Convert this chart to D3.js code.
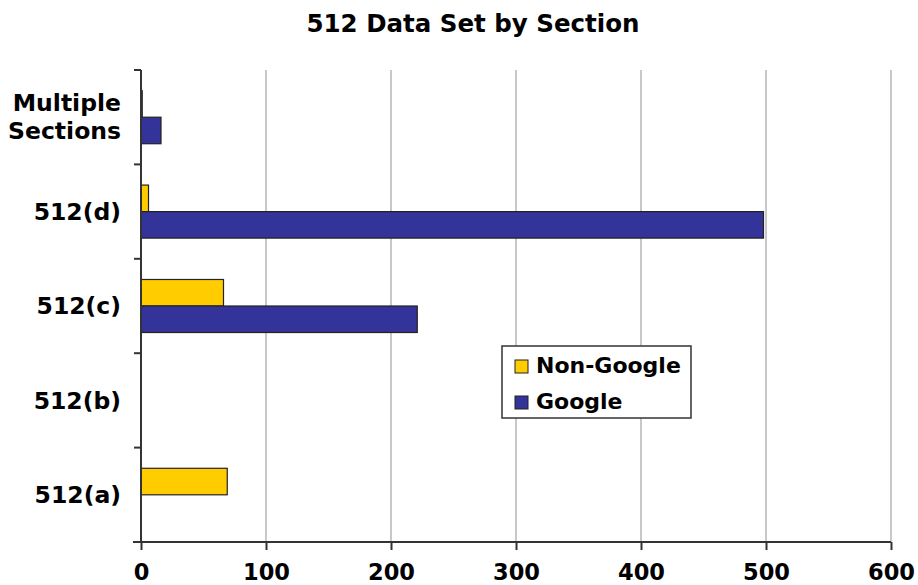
<!DOCTYPE html>
<html>
<head>
<meta charset="utf-8">
<script src="https://cdn.jsdelivr.net/npm/d3@7"></script>
<style>
  body { margin: 0; background: #fff; }
  text { font-family: "DejaVu Sans", Verdana, sans-serif; font-weight: bold; fill: #000; }
</style>
</head>
<body>
<div id="chart"></div>
<script>
// data
const sections = ["512(a)", "512(b)", "512(c)", "512(d)", "Multiple Sections"];
const nonGoogle = [69, 0, 66, 6, 1];
const google = [0, 0, 221, 498, 16];
const seriesNames = ["Non-Google", "Google"];
const xTicks = [0, 100, 200, 300, 400, 500, 600];

const svgWidth = 918;
const svgHeight = 585;
const margin = { top: 70, right: 27, bottom: 43, left: 141 };
const width = svgWidth - margin.left - margin.right;
const height = svgHeight - margin.top - margin.bottom;

const colors = { "Non-Google": "#FFCC00", "Google": "#333399" };

const svg = d3.select("#chart").append("svg")
  .attr("width", svgWidth)
  .attr("height", svgHeight);

svg.append("text")
  .attr("x", 473)
  .attr("y", 32)
  .attr("text-anchor", "middle")
  .style("font-size", "24.5px")
  .text("512 Data Set by Section");

const chartGroup = svg.append("g")
  .attr("transform", `translate(${margin.left}, ${margin.top})`);

const xScale = d3.scaleLinear().domain([0, 600]).range([0, width]);

// categories from bottom to top
const yScale = d3.scaleBand()
  .domain(sections.slice().reverse())
  .range([0, height]);

const inner = d3.scaleBand()
  .domain(seriesNames)
  .range([0, yScale.bandwidth()])
  .paddingOuter(0.78)
  .paddingInner(0);

// gridlines
chartGroup.selectAll(".grid")
  .data(xTicks.slice(1))
  .enter().append("line")
  .attr("x1", d => xScale(d))
  .attr("x2", d => xScale(d))
  .attr("y1", 0)
  .attr("y2", height)
  .attr("stroke", "#c8c8c8")
  .attr("stroke-width", 2);

// bars
const rows = sections.map((s, i) => ({ section: s, "Non-Google": nonGoogle[i], "Google": google[i] }));
const groups = chartGroup.selectAll(".row")
  .data(rows)
  .enter().append("g")
  .attr("transform", d => `translate(0, ${yScale(d.section)})`);

groups.selectAll("rect")
  .data(d => seriesNames.map(k => ({ key: k, value: d[k] })).filter(e => e.value > 0))
  .enter().append("rect")
  .attr("x", 0)
  .attr("y", d => inner(d.key))
  .attr("width", d => xScale(d.value))
  .attr("height", inner.bandwidth())
  .attr("fill", d => colors[d.key])
  .attr("stroke", "#222")
  .attr("stroke-width", 1.2);

// x axis
const xAxis = chartGroup.append("g")
  .attr("transform", `translate(0, ${height})`)
  .call(d3.axisBottom(xScale).tickValues(xTicks).tickSize(8).tickPadding(14));
xAxis.select(".domain").remove();
xAxis.append("line")
  .attr("x1", -8).attr("x2", width)
  .attr("stroke", "#333").attr("stroke-width", 2);
xAxis.selectAll(".tick line").attr("stroke", "#333").attr("stroke-width", 2);
xAxis.selectAll("text")
  .style("font-size", "22.5px")
  .attr("fill", "#000");

// y axis
const yAxisG = chartGroup.append("g");
yAxisG.append("line")
  .attr("x1", 0).attr("x2", 0).attr("y1", 0).attr("y2", height)
  .attr("stroke", "#333").attr("stroke-width", 2);
const bounds = d3.range(sections.length + 1).map(i => i * yScale.step());
yAxisG.selectAll(".ytick")
  .data(bounds)
  .enter().append("line")
  .attr("x1", -7).attr("x2", 0)
  .attr("y1", d => d).attr("y2", d => d)
  .attr("stroke", "#333").attr("stroke-width", 2);

const ylabels = yAxisG.selectAll(".ylabel")
  .data(sections)
  .enter().append("text")
  .attr("text-anchor", "end")
  .attr("x", -20)
  .attr("y", d => yScale(d) + yScale.bandwidth() / 2)
  .style("font-size", "23.5px");

ylabels.each(function(d) {
  const parts = d === "Multiple Sections" ? ["Multiple", "Sections"] : [d];
  const t = d3.select(this);
  parts.forEach((p, i) => {
    t.append("tspan")
      .attr("x", -20)
      .attr("dy", i === 0 ? (parts.length === 1 ? "0.35em" : "-0.28em") : "1.22em")
      .text(p);
  });
});

// legend
const legend = svg.append("g").attr("transform", "translate(502, 346)");
legend.append("rect")
  .attr("width", 189).attr("height", 72)
  .attr("fill", "#fff").attr("stroke", "#333").attr("stroke-width", 1.5);
seriesNames.forEach((name, i) => {
  legend.append("rect")
    .attr("x", 13).attr("y", 14 + i * 36)
    .attr("width", 13).attr("height", 13)
    .attr("fill", colors[name]).attr("stroke", "#222");
  legend.append("text")
    .attr("x", 34).attr("y", 27 + i * 36)
    .style("font-size", "22px")
    .text(name);
});
</script>
</body>
</html>
